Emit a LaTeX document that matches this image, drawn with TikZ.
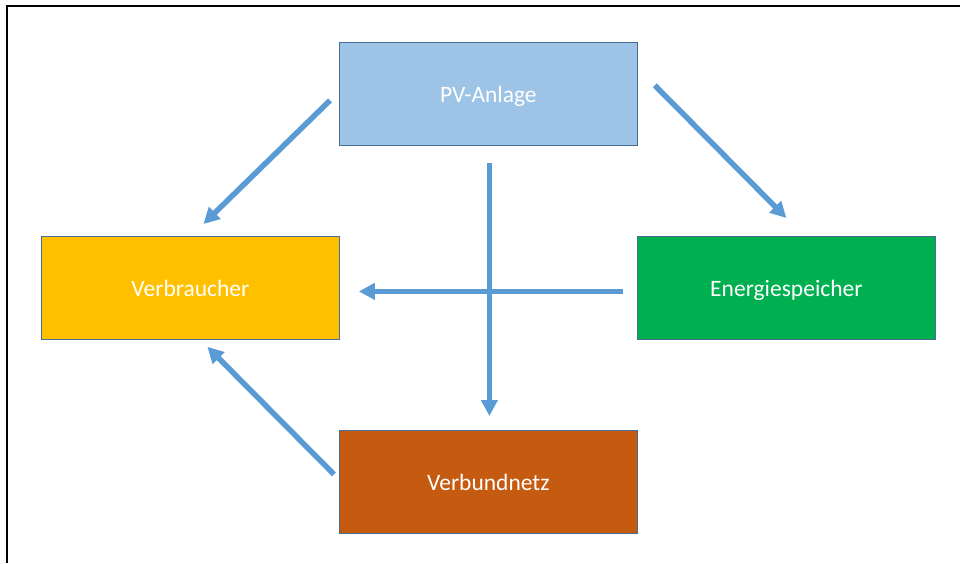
\documentclass[tikz,border=0pt]{standalone}
\usepackage{fontspec}
\setmainfont{Carlito}
\usetikzlibrary{arrows.meta,calc}
\definecolor{boxedge}{RGB}{72,110,150}
\definecolor{arrowblue}{RGB}{91,155,213}
\definecolor{pvblue}{RGB}{157,195,230}
\definecolor{vbyellow}{RGB}{255,192,0}
\definecolor{esgreen}{RGB}{0,176,80}
\definecolor{vnorange}{RGB}{197,90,17}
\begin{document}
\begin{tikzpicture}[x=1pt,y=-1pt,
  box/.style={draw=boxedge,line width=0.8pt,minimum width=298pt,minimum height=103pt,inner sep=0pt,anchor=north west,text=white,font=\fontsize{23.5}{28}\selectfont,
    text height=18pt,text depth=0pt},
  flow/.style={draw=arrowblue,line width=5.5pt,-{Triangle[length=16pt,width=16pt]}},
  frame/.style={draw=black,line width=2pt}]
\useasboundingbox (0,0) rectangle (960,563);
\coordinate (fbl) at (7,563);
\coordinate (ftl) at (7,6);
\coordinate (ftr) at (960,6);
\draw[frame] (fbl) -- (ftl) -- (ftr);

\node[box,fill=pvblue] (pv) at (339,42) {PV-Anlage};
\node[box,fill=vbyellow] (vb) at (41,236) {Verbraucher};
\node[box,fill=esgreen] (es) at (637,236) {Energiespeicher};
\node[box,fill=vnorange] (vn) at (339,430) {Verbundnetz};

\draw[flow] ($(pv.west)+(-9,6.5)$) -- ($(vb.north)+(13,-12)$);
\draw[flow] ($(pv.east)+(17,-8.5)$) -- ($(es.north)+(0,-18)$);
\draw[flow] ($(pv.south)+(1,17)$) -- ($(vn.north)+(1,-14)$);
\draw[flow] ($(es.west)+(-14,3.5)$) -- ($(vb.east)+(19,3.5)$);
\draw[flow] ($(vn.west)+(-5,-7.5)$) -- ($(vb.south)+(17,7)$);
\end{tikzpicture}
\end{document}
